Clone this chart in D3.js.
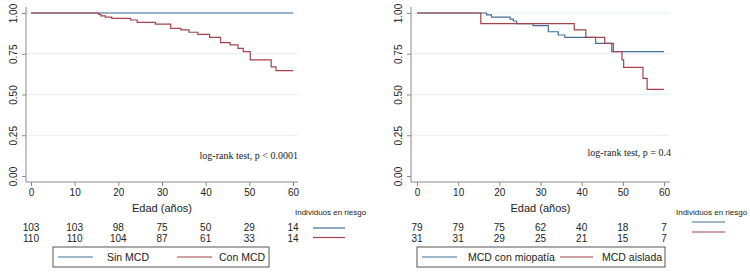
<!DOCTYPE html>
<html><head><meta charset="utf-8">
<script src="https://cdn.jsdelivr.net/npm/d3@7"></script>
<style>body{margin:0;background:#fff}svg{display:block}</style>
</head><body>
<svg id="c" width="750" height="275"></svg>
<script>
// ---- data ----
const xTicks = [0,10,20,30,40,50,60];
const yTicks = [0,0.25,0.5,0.75,1];
const yTickLabels = ["0.00","0.25","0.50","0.75","1.00"];

// Left panel
const leftSeriesNames = ["Sin MCD","Con MCD"];
const leftSinAge = [0,60];
const leftSinSurv = [1,1];
const leftConAge  = [0,15.5,16,17,18.5,22.8,24.3,28.5,32,34.3,36.2,38.2,40.9,43.4,45.6,47.4,48.6,50.2,55,56.1,60];
const leftConSurv = [1,0.992,0.982,0.975,0.967,0.957,0.943,0.932,0.906,0.896,0.882,0.869,0.851,0.818,0.804,0.783,0.763,0.712,0.67,0.646,0.646];
const leftRiskSin = [103,103,98,75,50,29,14];
const leftRiskCon = [110,110,104,87,61,33,14];
const leftTest = "log-rank test, p < 0.0001";

// Right panel
const rightSeriesNames = ["MCD con miopatía","MCD aislada"];
const rightMioAge  = [0,16.9,18.1,22.6,23.4,24.2,28.2,31.9,34.3,35.9,43.4,47.3,60];
const rightMioSurv = [1,0.988,0.975,0.963,0.951,0.934,0.922,0.885,0.865,0.85,0.814,0.763,0.763];
const rightAisAge  = [0,15.5,38.2,41,45.6,47.7,49.8,50.2,54.9,55.9,60];
const rightAisSurv = [1,0.935,0.896,0.851,0.814,0.763,0.712,0.667,0.599,0.532,0.532];
const rightRiskMio = [79,79,75,62,40,18,7];
const rightRiskAis = [31,31,29,25,21,15,7];
const rightTest = "log-rank test, p = 0.4";

const riskTitle = "Individuos en riesgo";
const xTitle = "Edad (años)";

// ---- style ----
const BLUE = "#436f96", RED = "#a3434b", GRID = "#e6eeee", AXIS = "#8a8a8a";
const SANS = "'Liberation Sans', Arial, sans-serif", SERIF = "'Liberation Serif','Times New Roman',serif";
const svg = d3.select("#c");

function panel(cfg){
  const g = svg.append("g");
  const x = d3.scaleLinear().domain([0,60]).range([cfg.x0, cfg.x1]);
  const y = d3.scaleLinear().domain([0,1]).range([176,13]);
  // grid
  g.selectAll(".grid").data(yTicks.filter(d=>d>0)).join("line")
    .attr("x1",cfg.axisX).attr("x2",cfg.gridEnd).attr("y1",d=>y(d)).attr("y2",d=>y(d))
    .attr("stroke",GRID).attr("stroke-width",1);
  // y axis
  const ya = g.append("g").attr("transform",`translate(${cfg.axisX},0)`)
    .call(d3.axisLeft(y).tickValues(yTicks).tickFormat((d,i)=>yTickLabels[i]).tickSize(4).tickPadding(3));
  ya.select(".domain").remove();
  g.append("line").attr("x1",cfg.axisX).attr("x2",cfg.axisX).attr("y1",7).attr("y2",182).attr("stroke",AXIS);
  ya.selectAll(".tick line").attr("stroke",AXIS);
  ya.selectAll(".tick text").attr("transform","rotate(-90)").attr("x",0).attr("y",-13)
    .attr("dy","0.35em").attr("text-anchor","middle")
    .style("font-family",SANS).style("font-size","10px").attr("fill","#222");
  // x axis
  const xa = g.append("g").attr("transform",`translate(0,182)`)
    .call(d3.axisBottom(x).tickValues(xTicks).tickSize(4).tickPadding(3));
  xa.select(".domain").remove();
  g.append("line").attr("x1",cfg.axisX).attr("x2",cfg.gridEnd).attr("y1",182).attr("y2",182).attr("stroke",AXIS);
  xa.selectAll(".tick line").attr("stroke",AXIS);
  xa.selectAll(".tick text").style("font-family",SANS).style("font-size","10px").attr("fill","#222");
  g.append("text").attr("x",(cfg.axisX+cfg.gridEnd)/2).attr("y",208).attr("dy","0.35em")
    .attr("text-anchor","middle").style("font-family",SANS).style("font-size","11px").attr("fill","#222").text(xTitle);
  // curves
  const line = d3.line().x(d=>x(d[0])).y(d=>y(d[1])).curve(d3.curveStepAfter);
  cfg.series.forEach(s=>{
    g.append("path").datum(d3.zip(s.age,s.surv)).attr("d",line)
      .attr("fill","none").attr("stroke",s.color).attr("stroke-width",1.2);
  });
  // test text
  g.append("text").attr("x",cfg.testX).attr("y",cfg.testY).attr("dy","0.35em").attr("text-anchor","end")
    .style("font-family",SERIF).style("font-size","10px").attr("fill","#222").text(cfg.test);
  // risk table
  cfg.risk.forEach((r,ri)=>{
    g.selectAll(null).data(r).join("text").attr("x",(d,i)=>x(xTicks[i])).attr("y",227+ri*11).attr("dy","0.35em")
      .attr("text-anchor","middle").style("font-family",SANS).style("font-size","10px").attr("fill","#222").text(d=>d);
  });
  g.append("text").attr("x",cfg.riskTitleX).attr("y",cfg.riskTitleY).attr("dy","0.35em")
    .style("font-family",SANS).style("font-size","8px").attr("fill","#222").text(riskTitle);
  cfg.series.forEach((s,i)=>{
    g.append("line").attr("x1",cfg.riskLineX[0]).attr("x2",cfg.riskLineX[1])
      .attr("y1",cfg.riskLineY[i]).attr("y2",cfg.riskLineY[i]).attr("stroke",s.color).attr("stroke-width",1.2);
  });
  // legend
  const L = cfg.legend;
  g.append("rect").attr("x",L.x).attr("y",247).attr("width",L.w).attr("height",20)
    .attr("fill","#fff").attr("stroke","#555").attr("stroke-width",1);
  cfg.series.forEach((s,i)=>{
    g.append("line").attr("x1",L.items[i][0]).attr("x2",L.items[i][1]).attr("y1",257).attr("y2",257)
      .attr("stroke",s.color).attr("stroke-width",1.2);
    g.append("text").attr("x",L.items[i][2]).attr("y",257).attr("dy","0.35em")
      .style("font-family",SANS).style("font-size","10.5px").attr("fill","#222").text(s.name);
  });
}

panel({
  x0:31, x1:293, axisX:26, gridEnd:298,
  series:[
    {name:leftSeriesNames[0], age:leftSinAge, surv:leftSinSurv, color:BLUE},
    {name:leftSeriesNames[1], age:leftConAge, surv:leftConSurv, color:RED}
  ],
  test:leftTest, testX:298, testY:155,
  risk:[leftRiskSin,leftRiskCon],
  riskTitleX:295, riskTitleY:212, riskLineX:[313,345], riskLineY:[228,237.5],
  legend:{x:53, w:216, items:[[58,93,107],[177,212,219]]}
});
panel({
  x0:417, x1:664, axisX:411, gridEnd:670,
  series:[
    {name:rightSeriesNames[0], age:rightMioAge, surv:rightMioSurv, color:BLUE},
    {name:rightSeriesNames[1], age:rightAisAge, surv:rightAisSurv, color:RED}
  ],
  test:rightTest, testX:671, testY:152,
  risk:[rightRiskMio,rightRiskAis],
  riskTitleX:676, riskTitleY:212, riskLineX:[692,725], riskLineY:[222,232],
  legend:{x:417, w:248, items:[[422,457,468],[560,593,602]]}
});
</script>
</body></html>
